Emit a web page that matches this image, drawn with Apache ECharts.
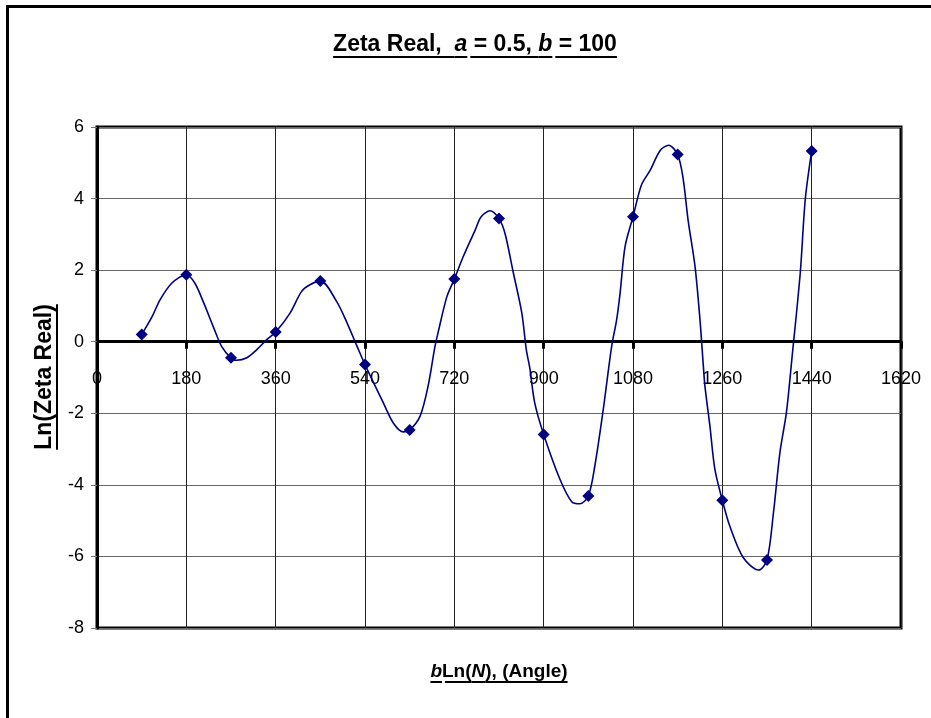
<!DOCTYPE html>
<html>
<head>
<meta charset="utf-8">
<script src="https://cdn.jsdelivr.net/npm/echarts@6/dist/echarts.min.js"></script>
<style>
html,body{margin:0;padding:0;background:#fff;}
#chart{width:931px;height:718px;}
</style>
</head>
<body>
<div id="chart"></div>
<script>
// ---- data ----
const markerX = [90, 180, 270, 360, 450, 540, 630, 720, 810, 900, 990, 1080, 1170, 1260, 1350, 1440];
const markerY = [0.2, 1.87, -0.45, 0.27, 1.7, -0.64, -2.47, 1.75, 3.44, -2.59, -4.31, 3.49, 5.23, -4.43, -6.1, 5.33];

const curveX = [90, 111, 127, 151, 180, 197, 214, 234, 251, 270, 281, 302, 322, 342, 360, 389, 412, 429, 450,
  483, 504, 524, 540, 577, 597, 617, 630, 651, 667, 681, 687, 705, 720, 738, 762, 774, 792, 810, 822, 839,
  856, 865, 872, 882, 900, 933, 957, 973, 990, 1003, 1020, 1037, 1047, 1054, 1064, 1080, 1097, 1115, 1135,
  1152, 1170, 1181, 1191, 1205, 1215, 1222, 1225, 1235, 1245, 1260, 1275, 1302, 1333, 1350, 1363, 1376,
  1389, 1400, 1417, 1427, 1440];
const curveY = [0.2, 0.7, 1.17, 1.64, 1.87, 1.64, 1.12, 0.43, -0.13, -0.45, -0.52, -0.45, -0.22, 0.06, 0.27, 0.8, 1.4, 1.59, 1.7,
  1.12, 0.52, -0.13, -0.64, -1.71, -2.27, -2.52, -2.47, -2.08, -1.25, -0.13, 0.24, 1.26, 1.75, 2.38, 3.12, 3.49, 3.66, 3.44, 3.03, 1.92,
  0.8, -0.22, -0.73, -1.71, -2.59, -3.85, -4.48, -4.53, -4.31, -3.48, -1.9, -0.13, 0.61, 1.36, 2.66, 3.49, 4.38, 4.8, 5.35,
  5.49, 5.23, 4.56, 3.4, 2.1, 0.61, -0.73, -1.25, -2.36, -3.57, -4.43, -5.15, -6.03, -6.38, -6.1, -4.78, -3.1,
  -1.99, -0.5, 1.92, 3.96, 5.33];

const xMin = 0, xMax = 1620, xStep = 180;
const yMin = -8, yMax = 6, yStep = 2;

const titleSegs = [
  {t: 'Zeta Real,  ', u: true}, {t: 'a', i: true, u: true},
  {t: ' = 0.5, ', u: true, gap: true}, {t: 'b', i: true, u: true},
  {t: ' = 100', u: true, gap: true}
];
const xNameSegs = [
  {t: 'b', i: true, u: true}, {t: 'Ln(', u: true, gap: true}, {t: 'N', i: true, u: true}, {t: '), (Angle)', u: true}
];
const yNameSegs = [{t: 'Ln(Zeta Real)', u: true}];

// ---- helpers ----
const FAM = '"Liberation Sans", Arial, sans-serif';
const mctx = document.createElement('canvas').getContext('2d');
function underlined(segs, fontSize, cx, cy, rot) {
  let x = 0;
  const parts = [];
  segs.forEach(s => {
    const font = (s.i ? 'italic ' : '') + 'bold ' + fontSize + 'px ' + FAM;
    mctx.font = font;
    const w = mctx.measureText(s.t).width;
    parts.push({s, font, x, w});
    x += w;
  });
  const total = x;
  const children = [];
  const uy = Math.round(fontSize * 0.52);
  parts.forEach(p => {
    children.push({
      type: 'text', x: p.x - total / 2, y: 0,
      style: {text: p.s.t, font: p.font, fill: '#000', align: 'left', verticalAlign: 'middle'}
    });
    if (p.s.u) {
      const g = p.s.gap ? 3 : 0;
      children.push({
        type: 'line',
        shape: {x1: p.x - total / 2 + g, y1: uy, x2: p.x + p.w - total / 2, y2: uy},
        style: {stroke: '#000', lineWidth: 2}
      });
    }
  });
  return {type: 'group', x: cx, y: cy, rotation: rot || 0, children};
}

const GRID = {left: 97, top: 127, width: 804, height: 501};
// shift the x axis (line, ticks, labels) up to the y = 0 level
const zeroOffset = -GRID.height * (0 - yMin) / (yMax - yMin);

const chart = echarts.init(document.getElementById('chart'), null, {renderer: 'canvas'});
const option = {
  animation: false,
  backgroundColor: '#fff',
  grid: Object.assign({show: true, borderColor: '#000', borderWidth: 3, containLabel: false}, GRID),
  xAxis: {
    type: 'value', min: xMin, max: xMax, interval: xStep,
    position: 'bottom', offset: zeroOffset,
    axisLine: {show: true, onZero: false, lineStyle: {color: '#000', width: 3}},
    axisTick: {show: true, length: 7, lineStyle: {color: '#000', width: 3}},
    axisLabel: {fontSize: 18, color: '#000', margin: 28, fontFamily: FAM, showMinLabel: true, showMaxLabel: true,
      hideOverlap: false, formatter: v => String(v)},
    splitLine: {show: true, lineStyle: {color: '#222', width: 1}}
  },
  yAxis: {
    type: 'value', min: yMin, max: yMax, interval: yStep,
    axisLine: {show: true, onZero: false, lineStyle: {color: '#000', width: 3}},
    axisTick: {show: true, length: 6, lineStyle: {color: '#777', width: 1}},
    axisLabel: {fontSize: 18, color: '#000', margin: 13, fontFamily: FAM, formatter: v => String(v)},
    splitLine: {show: true, lineStyle: {color: '#666', width: 1}}
  },
  series: [
    {
      type: 'line', data: curveX.map((x, i) => [x, curveY[i]]),
      smooth: 0.3, showSymbol: false, symbol: 'none',
      lineStyle: {color: '#000080', width: 1.6}, z: 3
    },
    {
      type: 'scatter', data: markerX.map((x, i) => [x, markerY[i]]),
      symbol: 'diamond', symbolSize: 12,
      itemStyle: {color: '#000080', opacity: 1}, z: 4
    }
  ],
  graphic: [
    {type: 'rect', shape: {x: 7.5, y: 6.5, width: 1000, height: 1000}, style: {fill: 'none', stroke: '#000', lineWidth: 3}},
    underlined(titleSegs, 23, 475, 45, 0),
    underlined(xNameSegs, 19, 499, 672, 0),
    underlined(yNameSegs, 23, 45, 377, Math.PI / 2)
  ]
};
chart.setOption(option);
</script>
</body>
</html>
